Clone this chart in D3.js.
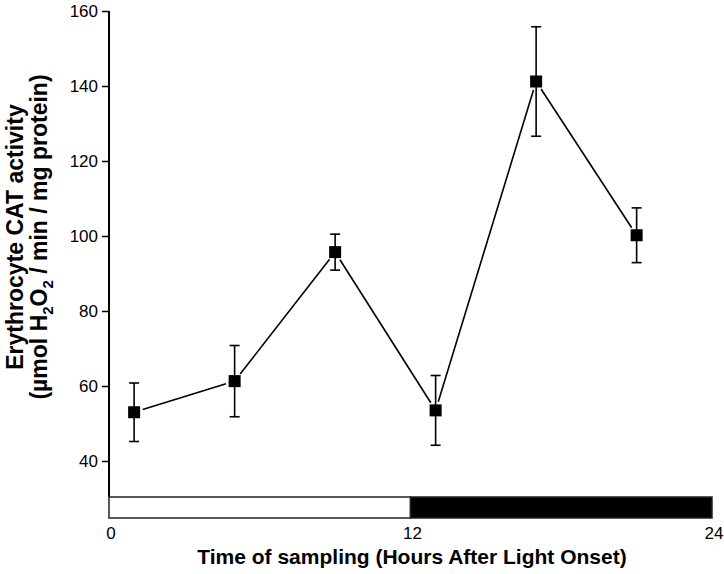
<!DOCTYPE html>
<html>
<head>
<meta charset="utf-8">
<script src="https://cdn.jsdelivr.net/npm/d3@7"></script>
<style>
  body { margin: 0; background: #fff; }
  text { font-family: "Liberation Sans", Arial, sans-serif; }
</style>
</head>
<body>
<div id="chart"></div>
<script>
// data
const hours = [1, 5, 9, 13, 17, 21];
const catMean = [53.0, 61.3, 95.7, 53.5, 141.2, 100.2];
const catErr = [7.8, 9.5, 4.8, 9.3, 14.6, 7.3];
const yTicks = [40, 60, 80, 100, 120, 140, 160];
const xTicks = [0, 12, 24];
const phases = [{from: 0, to: 12, dark: false}, {from: 12, to: 24, dark: true}];

const w = 724, h = 574;

let svg = d3.select("#chart").append("svg")
    .attr("width", w)
    .attr("height", h);

// scales
let x = d3.scaleLinear().domain([0, 24]).range([109, 712]);
let y = d3.scaleLinear().domain([40, 160]).range([461, 11]);

const barTop = 497, barBottom = 518;

// y axis
let yAxis = svg.append("g")
    .attr("transform", "translate(109,0)")
    .call(d3.axisLeft(y).tickValues(yTicks).tickSize(7).tickSizeOuter(0).tickPadding(4));
yAxis.select(".domain").remove();
yAxis.selectAll(".tick line").attr("stroke", "#000").attr("stroke-width", 1.5);
yAxis.selectAll(".tick text")
    .attr("font-size", 17)
    .attr("font-family", "'Liberation Sans', Arial, sans-serif")
    .attr("fill", "#000");

svg.append("line")
    .attr("x1", 109).attr("x2", 109)
    .attr("y1", y(160)).attr("y2", barTop)
    .attr("stroke", "#000").attr("stroke-width", 2);

// light / dark bar
svg.append("g").selectAll("rect")
    .data(phases)
    .enter()
    .append("rect")
    .attr("x", d => x(d.from))
    .attr("y", barTop)
    .attr("width", d => x(d.to) - x(d.from))
    .attr("height", barBottom - barTop)
    .attr("fill", d => d.dark ? "#000" : "#fff")
    .attr("stroke", "#222")
    .attr("stroke-width", 1.5);

// x tick labels (no tick marks)
svg.append("g").selectAll("text")
    .data(xTicks)
    .enter()
    .append("text")
    .attr("x", d => x(d) + 2)
    .attr("y", 539)
    .attr("text-anchor", "middle")
    .attr("font-size", 17)
    .text(d => d);

// connecting line, broken a little short of each marker
const gap = 9;
let pts = hours.map((d, i) => [x(d), y(catMean[i])]);
let segs = d3.pairs(pts).map(([a, b]) => {
    let dx = b[0] - a[0], dy = b[1] - a[1];
    let len = Math.sqrt(dx * dx + dy * dy);
    let ux = dx / len, uy = dy / len;
    return [a[0] + ux * gap, a[1] + uy * gap, b[0] - ux * gap, b[1] - uy * gap];
});
svg.append("g").selectAll("line")
    .data(segs)
    .enter()
    .append("line")
    .attr("x1", d => d[0]).attr("y1", d => d[1])
    .attr("x2", d => d[2]).attr("y2", d => d[3])
    .attr("stroke", "#000")
    .attr("stroke-width", 1.6);

// error bars
let eb = svg.append("g").selectAll("g")
    .data(hours.map((d, i) => ({t: d, m: catMean[i], e: catErr[i]})))
    .enter()
    .append("g");
eb.append("line")
    .attr("x1", d => x(d.t)).attr("x2", d => x(d.t))
    .attr("y1", d => y(d.m + d.e)).attr("y2", d => y(d.m - d.e))
    .attr("stroke", "#000").attr("stroke-width", 1.6);
eb.selectAll(".cap")
    .data(d => [d.m + d.e, d.m - d.e].map(v => ({t: d.t, v: v})))
    .enter()
    .append("line")
    .attr("class", "cap")
    .attr("x1", d => x(d.t) - 5).attr("x2", d => x(d.t) + 5)
    .attr("y1", d => y(d.v)).attr("y2", d => y(d.v))
    .attr("stroke", "#000").attr("stroke-width", 1.6);

// square markers
const ms = 12;
svg.append("g").selectAll("rect")
    .data(pts)
    .enter()
    .append("rect")
    .attr("x", d => d[0] - ms / 2)
    .attr("y", d => d[1] - ms / 2)
    .attr("width", ms)
    .attr("height", ms)
    .attr("fill", "#000");

// axis titles
svg.append("text")
    .attr("x", 412)
    .attr("y", 564)
    .attr("text-anchor", "middle")
    .attr("font-size", 21)
    .attr("font-weight", "bold")
    .text("Time of sampling (Hours After Light Onset)");

let yl = svg.append("g")
    .attr("transform", "translate(0,237) rotate(-90)");
yl.append("text")
    .attr("x", 0).attr("y", 23)
    .attr("text-anchor", "middle")
    .attr("font-size", 23)
    .attr("font-weight", "bold")
    .text("Erythrocyte CAT activity");
let l2 = yl.append("text")
    .attr("x", 0).attr("y", 47)
    .attr("text-anchor", "middle")
    .attr("font-size", 23)
    .attr("font-weight", "bold");
l2.append("tspan").text("(µmol H");
l2.append("tspan").attr("font-size", 15).attr("dy", 6).text("2");
l2.append("tspan").attr("dy", -6).text("O");
l2.append("tspan").attr("font-size", 15).attr("dy", 6).text("2");
l2.append("tspan").attr("dy", -6).text(" / min / mg protein)");
</script>
</body>
</html>
